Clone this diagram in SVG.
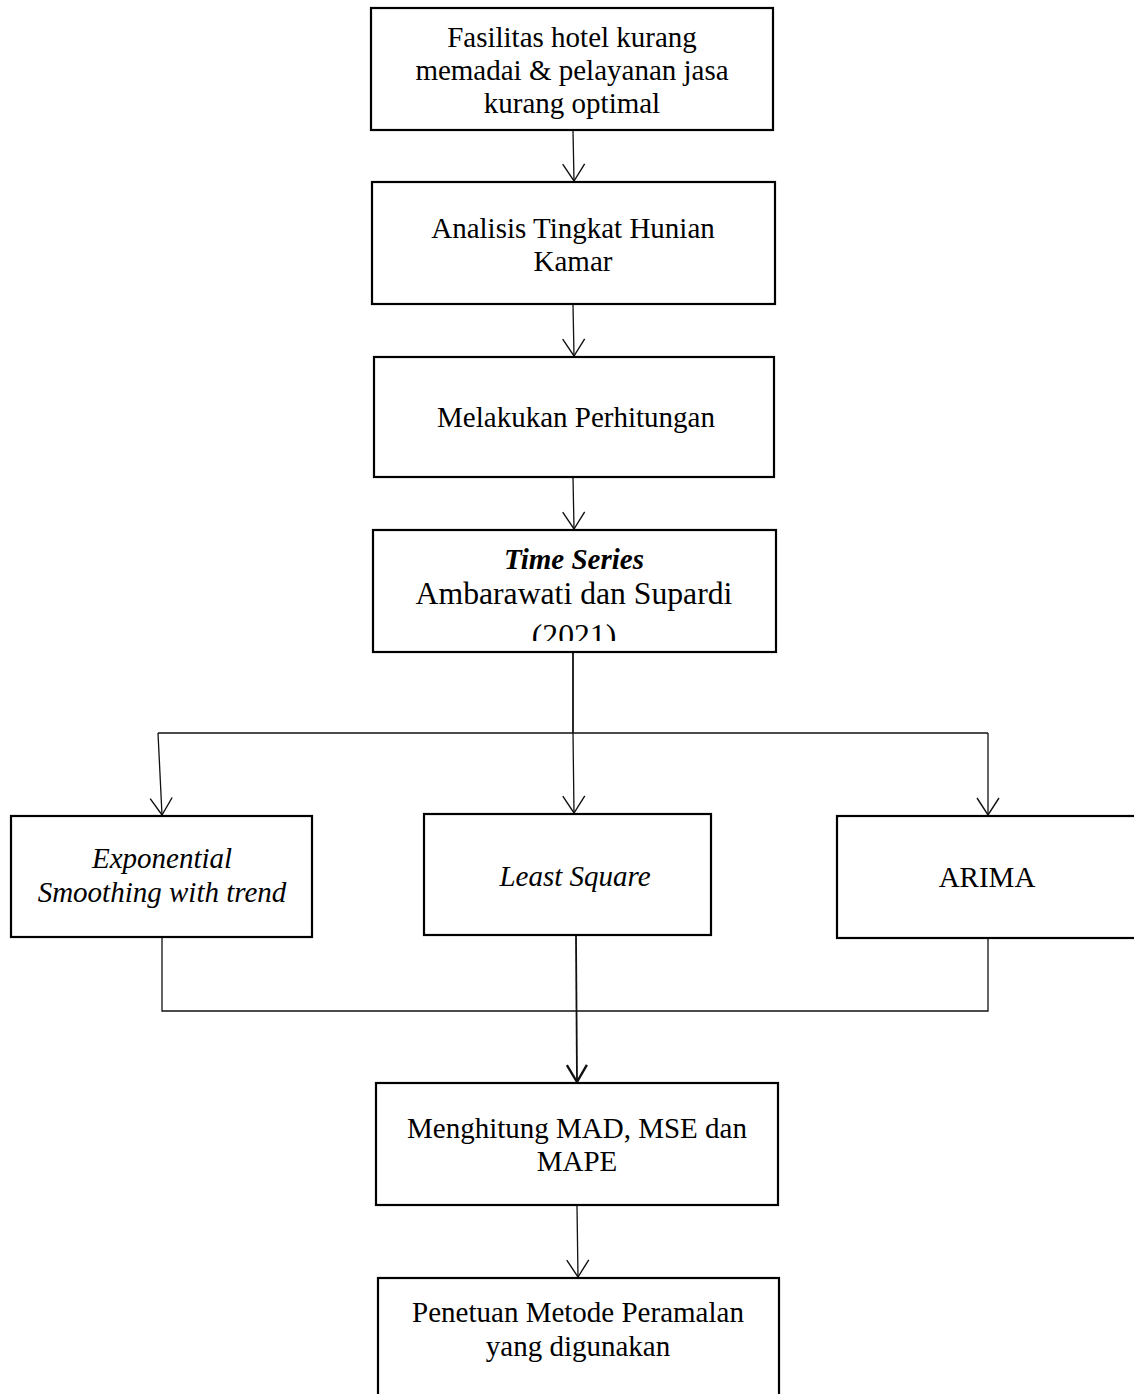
<svg xmlns="http://www.w3.org/2000/svg" width="1134" height="1394" viewBox="0 0 1134 1394">
<style>
.box{fill:#fff;stroke:#000;stroke-width:2.2}
.t{font-family:"Liberation Serif","Times New Roman",serif;font-size:29px;fill:#000;text-anchor:middle}
.l{font-size:31.7px}
.i{font-style:italic}
.b{font-weight:bold}
.c{fill:none;stroke:#111;stroke-width:1.3}
.ct{fill:none;stroke:#111;stroke-width:1.8}
</style>
<defs>
<marker id="ah" markerUnits="userSpaceOnUse" markerWidth="40" markerHeight="40" viewBox="-20 -20 40 40" refX="0" refY="0" orient="auto" overflow="visible">
<path d="M-17,-11 L0,0 L-17,11" fill="none" stroke="#111" stroke-width="1.4"/>
</marker>
<marker id="ah2" markerUnits="userSpaceOnUse" markerWidth="40" markerHeight="40" viewBox="-20 -20 40 40" refX="0" refY="0" orient="auto" overflow="visible">
<path d="M-17,-10 L0,0 L-17,10" fill="none" stroke="#111" stroke-width="2.4"/>
</marker>
<clipPath id="clip4"><rect x="373" y="530" width="403" height="111"/></clipPath>
</defs>
<g id="connectors">
<line class="c" x1="573" y1="131" x2="574" y2="181" marker-end="url(#ah)"/>
<line class="c" x1="573" y1="305" x2="574" y2="356" marker-end="url(#ah)"/>
<line class="c" x1="573" y1="477" x2="574" y2="529" marker-end="url(#ah)"/>
<line class="ct" x1="573" y1="653" x2="573" y2="733"/>
<polyline class="c" points="158,733 988,733"/>
<line class="c" x1="158" y1="733" x2="162" y2="815" marker-end="url(#ah)"/>
<line class="c" x1="573" y1="733" x2="574" y2="813" marker-end="url(#ah)"/>
<line class="c" x1="988" y1="733" x2="988" y2="815" marker-end="url(#ah)"/>
<polyline class="c" points="162,938 162,1011 988,1011 988,938"/>
<line class="ct" x1="576" y1="936" x2="577" y2="1082" marker-end="url(#ah2)"/>
<line class="c" x1="577" y1="1206" x2="578" y2="1277" marker-end="url(#ah)"/>
</g>
<g id="n1">
<rect class="box" x="371" y="8" width="402" height="122"/>
<text class="t" x="572" y="47">Fasilitas hotel kurang</text>
<text class="t" x="572" y="80">memadai &amp; pelayanan jasa</text>
<text class="t" x="572" y="113">kurang optimal</text>
</g>
<g id="n2">
<rect class="box" x="372" y="182" width="403" height="122"/>
<text class="t" x="573" y="238">Analisis Tingkat Hunian</text>
<text class="t" x="573" y="271">Kamar</text>
</g>
<g id="n3">
<rect class="box" x="374" y="357" width="400" height="120"/>
<text class="t" x="576" y="427">Melakukan Perhitungan</text>
</g>
<g id="n4">
<rect class="box" x="373" y="530" width="403" height="122"/>
<g clip-path="url(#clip4)">
<text class="t i b" x="574" y="569">Time Series</text>
<text class="t l" x="574" y="604">Ambarawati dan Supardi</text>
<text class="t l" x="574" y="646">(2021)</text>
</g>
</g>
<g id="n5">
<rect class="box" x="11" y="816" width="301" height="121"/>
<text class="t i" x="162" y="868">Exponential</text>
<text class="t i" x="162" y="902">Smoothing with trend</text>
</g>
<g id="n6">
<rect class="box" x="424" y="814" width="287" height="121"/>
<text class="t i" x="575" y="886">Least Square</text>
</g>
<g id="n7">
<rect class="box" x="837" y="816" width="310" height="122"/>
<text class="t" x="987" y="887">ARIMA</text>
</g>
<g id="n8">
<rect class="box" x="376" y="1083" width="402" height="122"/>
<text class="t" x="577" y="1138">Menghitung MAD, MSE dan</text>
<text class="t" x="577" y="1171">MAPE</text>
</g>
<g id="n9">
<rect class="box" x="378" y="1278" width="401" height="130"/>
<text class="t" x="578" y="1322">Penetuan Metode Peramalan</text>
<text class="t" x="578" y="1356">yang digunakan</text>
</g>
</svg>
